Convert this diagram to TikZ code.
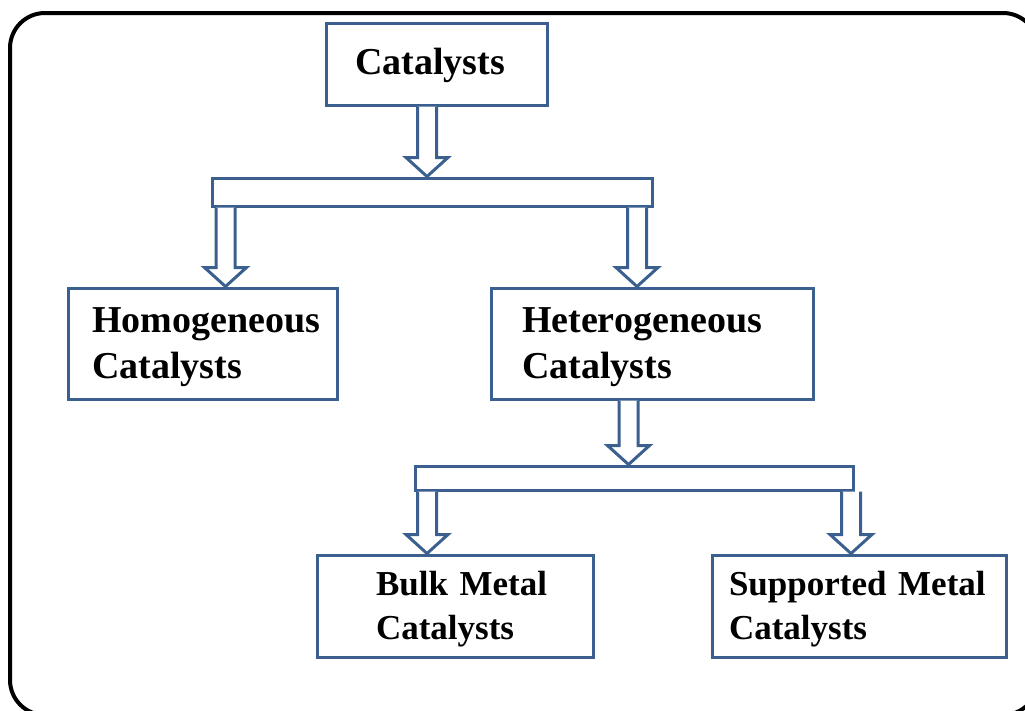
\documentclass[tikz,border=0pt]{standalone}
\usepackage{fontspec}
\setmainfont{Liberation Serif}
\usetikzlibrary{calc}
\definecolor{boxblue}{HTML}{3B5F8E}
\newcommand\toprule{\rule{0pt}{33pt}}
\tikzset{
  box/.style={draw=boxblue, line width=3pt, fill=white, inner xsep=0pt, inner ysep=0pt,
    align=left, font=\bfseries\fontsize{38}{46}\selectfont},
  smallbox/.style={box, font=\bfseries\fontsize{35}{44}\selectfont},
  bar/.style={draw=boxblue, line width=3pt, fill=white, inner sep=0pt},
  blockarr/.style={draw=boxblue, line width=3pt, fill=white, line join=miter},
  frame/.style={draw=black, line width=4pt, rounded corners=35pt}
}
% #1 = x centre, #2 = source anchor, #3 = target anchor
\newcommand\blockarrow[3]{%
  \draw[blockarr] let \p1=(#2), \p2=(#3) in
    (#1-9.5,\y1) -- (#1-9.5,\y2+19pt) -- (#1-21,\y2+19pt) -- (#1,\y2)
    -- (#1+21,\y2+19pt) -- (#1+9.5,\y2+19pt) -- (#1+9.5,\y1);}
\begin{document}
\begin{tikzpicture}[x=1pt,y=-1pt]
\useasboundingbox (0,0) rectangle (1025,710);
\clip (0,0) rectangle (1025,710);
\draw[frame] (10,13) rectangle (1038,715);

\node[box, minimum width=221pt, minimum height=82pt, text width=163pt] (cat) at (436.5,64) {\mbox{\rule{0pt}{30pt}Catalysts}};
\node[box, minimum width=269pt, minimum height=111pt, text width=221pt] (homo) at (202.5,343.5) {\mbox{\toprule Homogeneous}\\\mbox{Catalysts}};
\node[box, minimum width=322pt, minimum height=111pt, text width=260pt] (het) at (652,343.5) {\mbox{\toprule Heterogeneous}\\\mbox{Catalysts}};
\node[smallbox, minimum width=276pt, minimum height=102pt, text width=158pt] (bulk) at (455,606) {\mbox{\rule{0pt}{31pt}Bulk Metal}\\\mbox{Catalysts}};
\node[smallbox, minimum width=294pt, minimum height=102pt, text width=260pt] (sup) at (859,606) {\mbox{\rule{0pt}{31pt}Supported Metal}\\\mbox{Catalysts}};

\node[bar, minimum width=440pt, minimum height=28pt] (bar1) at (432,192) {};
\node[bar, minimum width=438pt, minimum height=24pt] (bar2) at (634,478) {};

\blockarrow{427}{cat.south}{bar1.north}
\blockarrow{225.5}{bar1.south}{homo.north}
\blockarrow{637}{bar1.south}{het.north}
\blockarrow{628.5}{het.south}{bar2.north}
\blockarrow{427}{bar2.south}{bulk.north}
\blockarrow{851}{bar2.south}{sup.north}
\end{tikzpicture}
\end{document}
